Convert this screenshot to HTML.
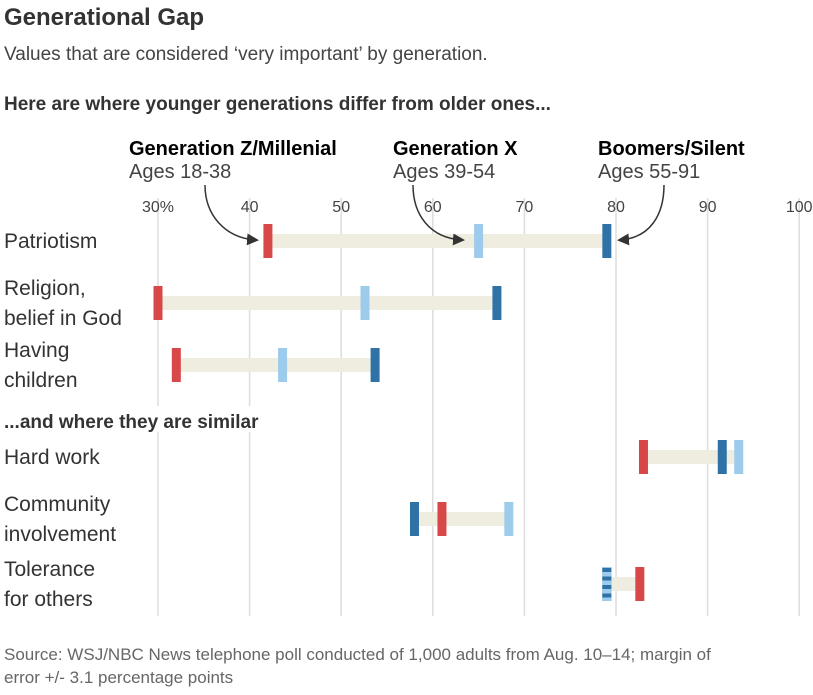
<!DOCTYPE html>
<html><head><meta charset="utf-8"><style>
body{margin:0;background:#fff;font-family:"Liberation Sans",sans-serif;color:#333}
svg text{font-family:"Liberation Sans",sans-serif}
</style></head><body>
<svg width="813" height="690">
<text x="4" y="25" font-size="24" font-weight="bold" fill="#333">Generational Gap</text>
<text x="4" y="60" font-size="19" fill="#444">Values that are considered ‘very important’ by generation.</text>
<text x="4" y="110" font-size="19" font-weight="bold" fill="#333">Here are where younger generations differ from older ones...</text>
<g>
<text x="129" y="155" font-size="20" font-weight="bold">Generation Z/Millenial</text>
<text x="129" y="178" font-size="20" fill="#444">Ages 18-38</text>
<text x="393" y="155" font-size="20" font-weight="bold">Generation X</text>
<text x="393" y="178" font-size="20" fill="#444">Ages 39-54</text>
<text x="598" y="155" font-size="20" font-weight="bold">Boomers/Silent</text>
<text x="598" y="178" font-size="20" fill="#444">Ages 55-91</text>
</g>
<defs><marker id="ah" markerWidth="8" markerHeight="8" refX="6" refY="4" orient="auto"><path d="M0,0 L8,4 L0,8 Z" fill="#333"/></marker></defs>
<g id="grid"></g>
<rect x="0" y="406" width="290" height="26" fill="#fff"/>
<text x="4" y="428" font-size="19" font-weight="bold" fill="#333">...and where they are similar</text>
<g id="rows"></g>
<path d="M205,185 C205,215 225,238 256,240" fill="none" stroke="#333" stroke-width="1.5" marker-end="url(#ah)"/>
<path d="M413,185 C413,215 430,238 462,240" fill="none" stroke="#333" stroke-width="1.5" marker-end="url(#ah)"/>
<path d="M664,185 C664,215 650,238 620,240" fill="none" stroke="#333" stroke-width="1.5" marker-end="url(#ah)"/>
<text x="4" y="660" font-size="17" fill="#666">Source: WSJ/NBC News telephone poll conducted of 1,000 adults from Aug. 10–14; margin of</text>
<text x="4" y="683" font-size="17" fill="#666">error +/- 3.1 percentage points</text>
</svg>
<script>
const categories=[["Patriotism"],["Religion,","belief in God"],["Having","children"],["Hard work"],["Community","involvement"],["Tolerance","for others"]];
const genZ=[42,30,32,83,61,82.6];
const genX=[65,52.6,43.6,93.4,68.3,79];
const boomers=[79,67,53.7,91.6,58,79];
const ticks=[30,40,50,60,70,80,90,100];
const tickLabels=["30%","40","50","60","70","80","90","100"];
const rowY=[241,303,365,457,519,584];
const ns="http://www.w3.org/2000/svg";
const x=v=>158+(v-30)*9.16;
function mk(t,a,p){const e=document.createElementNS(ns,t);for(const k in a)e.setAttribute(k,a[k]);p.appendChild(e);return e;}
const grid=document.getElementById('grid'),rows=document.getElementById('rows');
ticks.forEach((t,i)=>{
 const l=mk('line',{x1:x(t),x2:x(t),y1:198,y2:616,stroke:'#ddd','stroke-width':1.5},grid);
 
 
 const tx=mk('text',{x:x(t),y:212,'font-size':16,fill:'#444','text-anchor':'middle'},grid);
 tx.textContent=tickLabels[i];
 
 
});
categories.forEach((c,i)=>{
 const y=rowY[i];
 const lab=mk('text',{x:4,'font-size':21,fill:'#333'},rows);
 
 
 c.forEach((s,j)=>{const ts=mk('tspan',{x:4,y:(c.length==1?y+7:y-8+j*30)},lab);ts.textContent=s;});
 const vals=[genZ[i],genX[i],boomers[i]];
 const mn=Math.min(...vals),mx=Math.max(...vals);
 const b=mk('rect',{x:x(mn),y:y-7,width:x(mx)-x(mn),height:14,fill:'#efede0'},rows);
 
 
 const cols=['#d94848','#9dcbec','#2e72a6'];
 const names=['genz','genx','boomers'];
 const order=genX[i]===boomers[i]?[0,2,1]:[0,1,2];
 order.forEach(k=>{
  const v=vals[k];
  const r=mk('rect',{x:x(v)-4.5,y:y-17,width:9,height:34,fill:cols[k]},rows);
  
  
 });
 if(genX[i]===boomers[i]){
  for(let s=0;s<4;s++){const st=mk('rect',{x:x(genX[i])-4.5,y:y-17+s*8.5+1,width:9,height:4,fill:'#2e72a6'},rows);
  
  }
 }
});
</script>
</body></html>
